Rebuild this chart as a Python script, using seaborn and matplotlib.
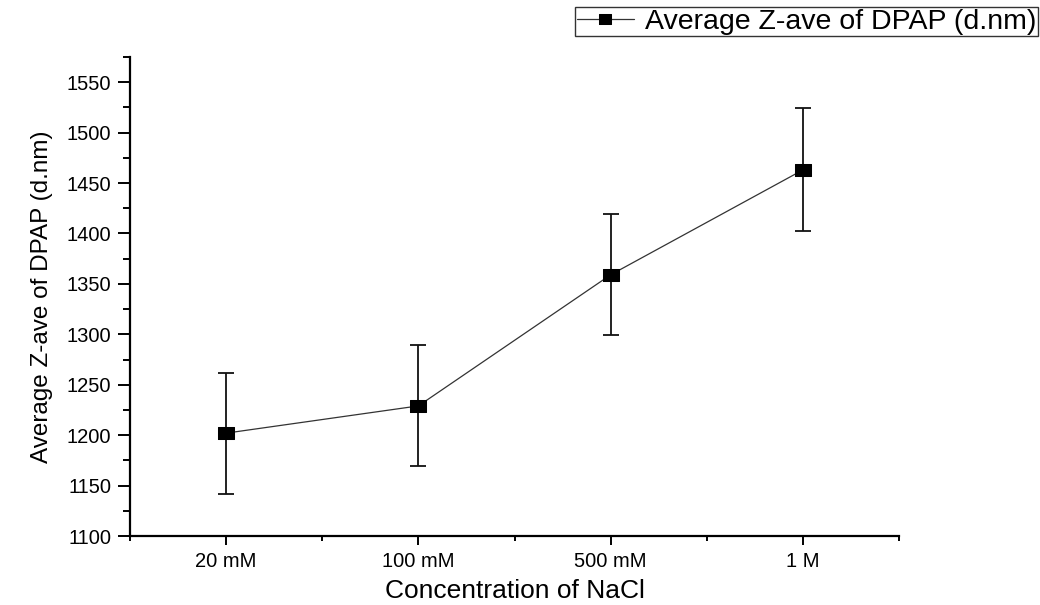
import matplotlib
matplotlib.use("Agg")
import matplotlib.pyplot as plt
from matplotlib.ticker import MultipleLocator, FixedLocator
import seaborn as sns
import pandas as pd

categories = ["20 mM", "100 mM", "500 mM", "1 M"]
z_ave = [1202, 1229, 1359, 1463]
z_err = [60, 60, 60, 61]
series_name = "Average Z-ave of DPAP (d.nm)"

sns.set_theme(style="ticks")
plt.rcParams["font.family"] = ["Liberation Sans", "DejaVu Sans"]
plt.rcParams["text.color"] = "black"
plt.rcParams["axes.labelcolor"] = "black"
plt.rcParams["xtick.color"] = "black"
plt.rcParams["ytick.color"] = "black"

df = pd.DataFrame({"cat": categories, "val": z_ave})
df["pos"] = range(len(categories))

fig = plt.figure(figsize=(10.4, 6.05), dpi=100)
ax = fig.add_axes([130 / 1040, 1 - 536 / 605, (899 - 130) / 1040, (536 - 57) / 605])

ax.errorbar(df["pos"], df["val"], yerr=z_err, fmt="none", ecolor="#111111",
            elinewidth=1.3, capsize=6, capthick=1.3, zorder=2)
sns.lineplot(data=df, x="pos", y="val", ax=ax, color="#333333", linewidth=0.9,
             marker=[(-1.3, -1), (1.3, -1), (1.3, 1), (-1.3, 1), (-1.3, -1)],
             markersize=11, markerfacecolor="black", markeredgecolor="black",
             label=series_name, zorder=3, legend=False)

ax.set_xlim(-0.5, 3.5)
ax.set_ylim(1100, 1575)
ax.xaxis.set_major_locator(FixedLocator(list(range(len(categories)))))
ax.set_xticklabels(categories)
ax.xaxis.set_minor_locator(FixedLocator([-0.5, 0.5, 1.5, 2.5, 3.5]))
ax.yaxis.set_major_locator(MultipleLocator(50))
ax.yaxis.set_minor_locator(MultipleLocator(25))

for s in ["top", "right"]:
    ax.spines[s].set_visible(False)
for s in ["left", "bottom"]:
    ax.spines[s].set_linewidth(1.6)
    ax.spines[s].set_color("black")

ax.tick_params(axis="x", which="major", length=6.5, width=1.4, labelsize=14.5, pad=5, colors="black")
ax.tick_params(axis="x", which="minor", length=3.6, width=1.4, colors="black")
ax.tick_params(axis="y", which="major", length=8.6, width=1.4, labelsize=14.5, pad=5, colors="black")
ax.tick_params(axis="y", which="minor", length=5, width=1.4, colors="black")

ax.set_xlabel("Concentration of NaCl", fontsize=19, labelpad=6, color="black")
ax.set_ylabel(series_name, fontsize=17.5, labelpad=10, color="black")

handles, labels = ax.get_legend_handles_labels()
leg = fig.legend(handles, labels, loc="upper right", bbox_to_anchor=(0.998, 0.988),
                 fontsize=20.5, frameon=True, fancybox=False, handlelength=2.0,
                 borderpad=0.05, handletextpad=0.4, borderaxespad=0, markerscale=0.8)
leg.get_frame().set_edgecolor("black")
leg.get_frame().set_linewidth(1.0)
for t in leg.get_texts():
    t.set_color("black")

fig.savefig("out.png", dpi=100)
